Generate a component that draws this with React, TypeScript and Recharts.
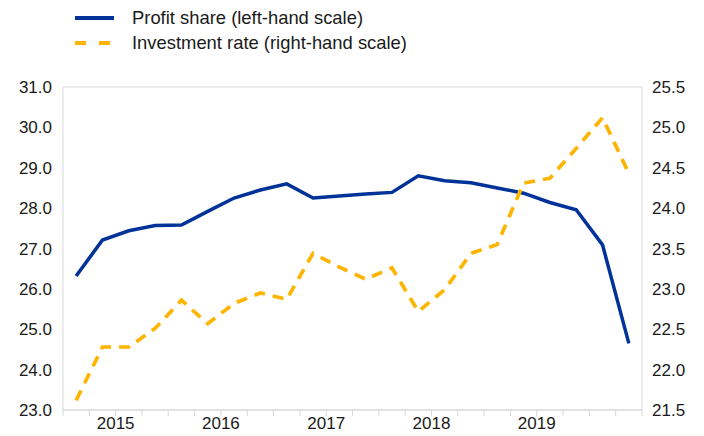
import { LineChart, Line, CartesianGrid, XAxis, YAxis } from "recharts";

const quarters = [
  "2015Q1", "2015Q2", "2015Q3", "2015Q4",
  "2016Q1", "2016Q2", "2016Q3", "2016Q4",
  "2017Q1", "2017Q2", "2017Q3", "2017Q4",
  "2018Q1", "2018Q2", "2018Q3", "2018Q4",
  "2019Q1", "2019Q2", "2019Q3", "2019Q4",
  "2020Q1", "2020Q2",
];
// left-hand scale
const profitShare = [
  26.32, 27.21, 27.44, 27.57, 27.58, 27.92, 28.25, 28.45, 28.6, 28.25, 28.3,
  28.35, 28.39, 28.8, 28.68, 28.63, 28.5, 28.37, 28.14, 27.96, 27.09, 24.65,
];
// right-hand scale
const investmentRate = [
  21.62, 22.28, 22.28, 22.51, 22.86, 22.57, 22.82, 22.95, 22.87, 23.44, 23.27,
  23.12, 23.26, 22.72, 22.99, 23.44, 23.55, 24.31, 24.37, 24.74, 25.12, 24.43,
];
const yearLabels = ["2015", "2016", "2017", "2018", "2019"];
const leftTicks = [23, 24, 25, 26, 27, 28, 29, 30, 31];
const rightTicks = [21.5, 22, 22.5, 23, 23.5, 24, 24.5, 25, 25.5];

const BLUE = "#003299";
const YELLOW = "#FFB400";
const FONT = '"Liberation Sans", Arial, sans-serif';

// each quarter sits in the middle of its band, boundaries are integer ticks
const data = quarters.map((q, i) => ({
  q,
  x: i + 0.5,
  profit: profitShare[i],
  invest: investmentRate[i],
}));
const boundaryTicks = quarters.map((_, i) => i).concat(quarters.length);

const yearAt = (v: number) =>
  v % 4 === 2 ? yearLabels[(v - 2) / 4] ?? "" : "";

function LegendRow({ top, dashed, color, label }: { top: number; dashed: boolean; color: string; label: string }) {
  return (
    <div style={{ position: "absolute", left: 75, top, height: 24, display: "flex", alignItems: "center" }}>
      <svg width={40} height={8} style={{ display: "block" }}>
        <line
          x1={0} y1={4} x2={dashed ? 36 : 39} y2={4}
          stroke={color} strokeWidth={4}
          strokeDasharray={dashed ? "11 13" : undefined}
        />
      </svg>
      <span style={{ marginLeft: 17, fontFamily: FONT, fontSize: 18.4, color: "#1a1a1a", lineHeight: "24px" }}>
        {label}
      </span>
    </div>
  );
}

export default function App() {
  const tickStyle = { fill: "#1a1a1a", fontSize: 17, fontFamily: FONT };
  return (
    <div style={{ position: "absolute", left: 0, top: 0, width: 704, height: 436, background: "#fff" }}>
      <LegendRow top={6} dashed={false} color={BLUE} label="Profit share (left-hand scale)" />
      <LegendRow top={31} dashed={true} color={YELLOW} label="Investment rate (right-hand scale)" />
      <LineChart width={704} height={436} data={data} margin={{ top: 87, right: 0, left: 0, bottom: 0 }}>
        <CartesianGrid vertical={false} stroke="#d9d9d9" />
        <XAxis
          dataKey="x"
          type="number"
          domain={[0, quarters.length]}
          ticks={boundaryTicks}
          interval={0}
          tickFormatter={yearAt}
          height={26}
          stroke="#d9d9d9"
          tickSize={6}
          tickMargin={1}
          tick={tickStyle}
        />
        <YAxis
          yAxisId="left"
          domain={[23, 31]}
          ticks={leftTicks}
          tickFormatter={(v: number) => v.toFixed(1)}
          width={63}
          stroke="#d9d9d9"
          tickLine={false}
          tickSize={0}
          tickMargin={11}
          tick={tickStyle}
          interval={0}
        />
        <YAxis
          yAxisId="right"
          orientation="right"
          domain={[21.5, 25.5]}
          ticks={rightTicks}
          tickFormatter={(v: number) => v.toFixed(1)}
          width={62}
          stroke="#d9d9d9"
          tickLine={false}
          tickSize={0}
          tickMargin={10}
          tick={tickStyle}
          interval={0}
        />
        <Line
          yAxisId="left"
          type="linear"
          dataKey="profit"
          stroke={BLUE}
          strokeWidth={3.5}
          dot={false}
          isAnimationActive={false}
        />
        <Line
          yAxisId="right"
          type="linear"
          dataKey="invest"
          stroke={YELLOW}
          strokeWidth={3.7}
          strokeDasharray="11 8"
          dot={false}
          isAnimationActive={false}
        />
      </LineChart>
    </div>
  );
}
